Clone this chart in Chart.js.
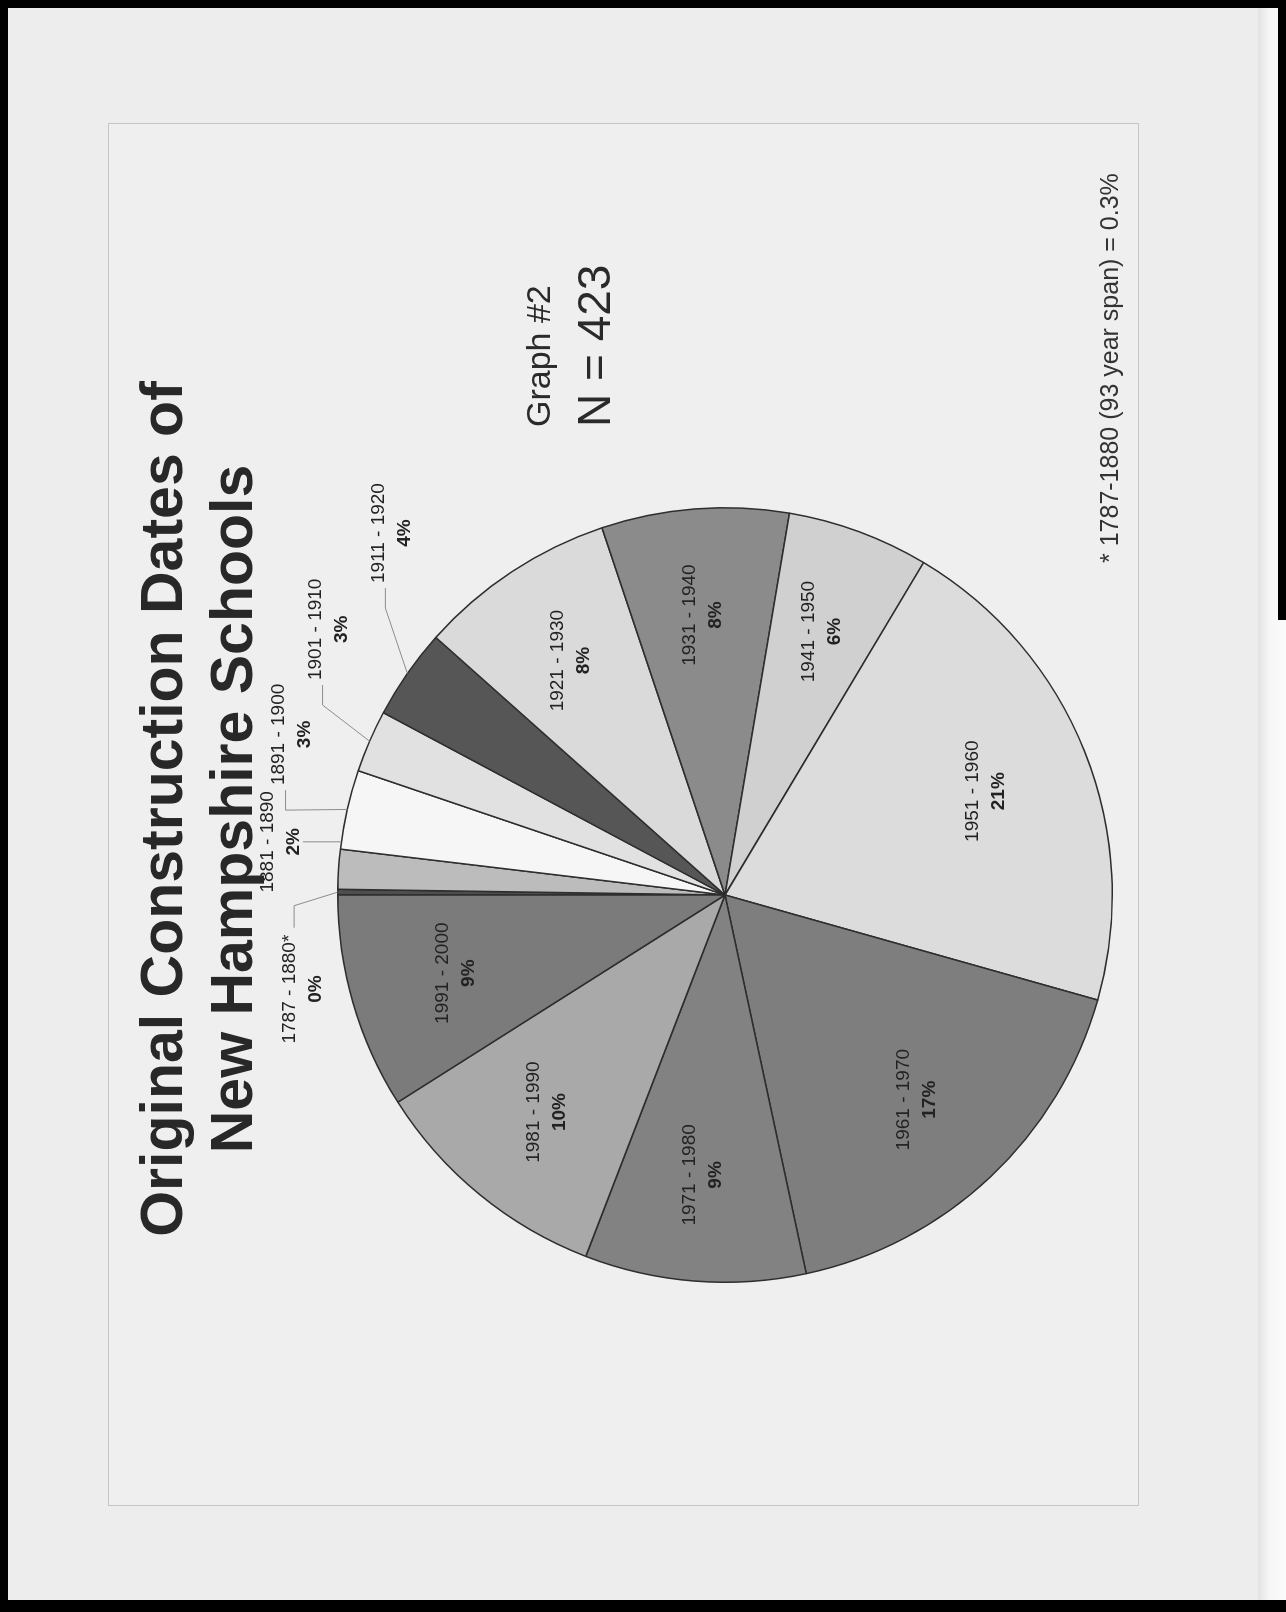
<!DOCTYPE html>
<html>
<head>
<meta charset="utf-8">
<script src="https://cdn.jsdelivr.net/npm/chart.js@4.4.0/dist/chart.umd.min.js"></script>
<style>
  html, body { margin: 0; padding: 0; }
  body { width: 1286px; height: 1612px; position: relative; overflow: hidden; background: #ededed; font-family: "Liberation Sans", Arial, sans-serif; }
  #border { position: absolute; left: 0; top: 0; width: 1286px; height: 1612px; box-sizing: border-box;
            border-top: 8px solid #000; border-left: 8px solid #000; border-bottom: 12px solid #000; }
  #edge { position: absolute; left: 1258px; top: 0; width: 28px; height: 1612px;
          background: linear-gradient(to right, #e2e2e2, #f6f6f6 40%, #fbfbfb); }
  #edgeBlack { position: absolute; left: 1278px; top: 0; width: 8px; height: 620px; background: #000; }
  #frame { position: absolute; left: 108px; top: 123px; width: 1031px; height: 1383px;
           box-sizing: border-box; border: 1px solid #c6c6c6; background: #efefef; }
  /* chart is laid out in reading orientation, then turned a quarter turn like the scanned page */
  #rot { position: absolute; left: 0; top: 0; width: 1612px; height: 1286px;
         transform-origin: 0 0; transform: translateY(1612px) rotate(-90deg); }
  #rot canvas { position: absolute; left: 0; top: 0; }
  .title { position: absolute; left: 303px; width: 1000px; text-align: center; font-weight: bold;
           font-size: 59px; line-height: 70px; top: 127px; color: #282828; white-space: nowrap; }
  .graphno { position: absolute; left: 1185px; top: 521px; font-size: 34px; line-height: 34px; color: #2a2a2a; white-space: nowrap; }
  .ncount { position: absolute; left: 1185px; top: 571px; font-size: 46px; line-height: 46px; color: #2a2a2a; white-space: nowrap; }
  .note { position: absolute; left: 1049px; top: 1097px; font-size: 25px; line-height: 25px; color: #333; white-space: nowrap; }
</style>
</head>
<body>
<div id="frame"></div>
<div id="edge"></div>
<div id="edgeBlack"></div>
<div id="border"></div>
<div id="rot">
  <canvas id="pieChart" width="1612" height="1286"></canvas>
  <div class="title">Original Construction Dates of<br>New Hampshire Schools</div>
  <div class="graphno">Graph #2</div>
  <div class="ncount">N = 423</div>
  <div class="note">* 1787-1880 (93 year span) = 0.3%</div>
</div>
<script>
// periods and number of schools built in each (N = 423)
const periods = ['1787 - 1880*', '1881 - 1890', '1891 - 1900', '1901 - 1910', '1911 - 1920',
                 '1921 - 1930', '1931 - 1940', '1941 - 1950', '1951 - 1960', '1961 - 1970',
                 '1971 - 1980', '1981 - 1990', '1991 - 2000'];
const schools = [1, 7, 14, 11, 16, 35, 33, 25, 88, 73, 39, 43, 38];
const sliceGrays = ['#4e4e4e', '#bcbcbc', '#f6f6f6', '#e1e1e1', '#565656', '#dadada', '#8b8b8b',
                    '#d0d0d0', '#dcdcdc', '#7e7e7e', '#828282', '#a9a9a9', '#7b7b7b'];

const total = schools.reduce((a, b) => a + b, 0);
const labelFont = '"Liberation Sans", Arial, sans-serif';

function drawTwoLines(ctx, x, y, top, bottom) {
    ctx.textAlign = 'center';
    ctx.textBaseline = 'middle';
    ctx.fillStyle = '#222';
    ctx.font = '19px ' + labelFont;
    ctx.fillText(top, x, y - 13);
    ctx.font = 'bold 19px ' + labelFont;
    ctx.fillText(bottom, x, y + 13);
}

const sliceLabels = {
    id: 'sliceLabels',
    afterDatasetsDraw(chart) {
        const ctx = chart.ctx;
        const arcs = chart.getDatasetMeta(0).data;
        let prevDeg = null;
        let outside = 0;
        ctx.save();
        arcs.forEach((arc, i) => {
            const p = arc.getProps(['x', 'y', 'startAngle', 'endAngle', 'outerRadius'], true);
            const mid = (p.startAngle + p.endAngle) / 2;
            const R = p.outerRadius;
            const pct = schools[i] / total * 100;
            const pctText = Math.round(pct) + '%';
            if (pct >= 5) {
                const r = R * 0.725;
                drawTwoLines(ctx, p.x + r * Math.cos(mid), p.y + r * Math.sin(mid), periods[i], pctText);
                return;
            }
            // small slices: labels outside, pushed apart along the rim
            const midDeg = mid * 180 / Math.PI + 90;
            const deg = prevDeg === null ? midDeg - 13 : Math.max(midDeg + 3, prevDeg + 13.5);
            prevDeg = deg;
            const d = R + 45 + 15 * outside;
            outside++;
            const a = (deg - 90) * Math.PI / 180;
            const lx = p.x + d * Math.cos(a);
            const ly = p.y + d * Math.sin(a);
            ctx.font = '19px ' + labelFont;
            const half = ctx.measureText(periods[i]).width / 2;
            const rimX = p.x + R * Math.cos(mid);
            const rimY = p.y + R * Math.sin(mid);

            ctx.strokeStyle = '#8c8c8c';
            ctx.lineWidth = 1;
            ctx.beginPath();
            if (rimX < lx - half - 4) {
                const sx = lx - half - 5;
                ctx.moveTo(sx, ly - 6);
                ctx.lineTo(sx - 20, ly - 6);
                ctx.lineTo(rimX, rimY);
            } else if (rimX > lx + half + 4) {
                const sx = lx + half + 7;
                ctx.moveTo(sx, ly - 9);
                ctx.lineTo(sx + 22, ly - 9);
                ctx.lineTo(rimX, rimY);
            } else {
                const yr = p.y - Math.sqrt(R * R - (lx - p.x) * (lx - p.x));
                ctx.moveTo(lx, ly + 22);
                ctx.lineTo(lx, yr);
            }
            ctx.stroke();
            drawTwoLines(ctx, lx, ly, periods[i], pctText);
        });
        ctx.restore();
    }
};

const ctx = document.getElementById('pieChart').getContext('2d');
const myChart = new Chart(ctx, {
    type: 'pie',
    data: {
        labels: periods,
        datasets: [{
            data: schools,
            backgroundColor: sliceGrays,
            borderColor: '#2e2e2e',
            borderWidth: 1.5
        }]
    },
    options: {
        responsive: false,
        animation: false,
        layout: { padding: { left: 329, right: 507, top: 337, bottom: 173 } },
        plugins: {
            legend: { display: false },
            tooltip: { enabled: false }
        }
    },
    plugins: [sliceLabels]
});
</script>
</body>
</html>
